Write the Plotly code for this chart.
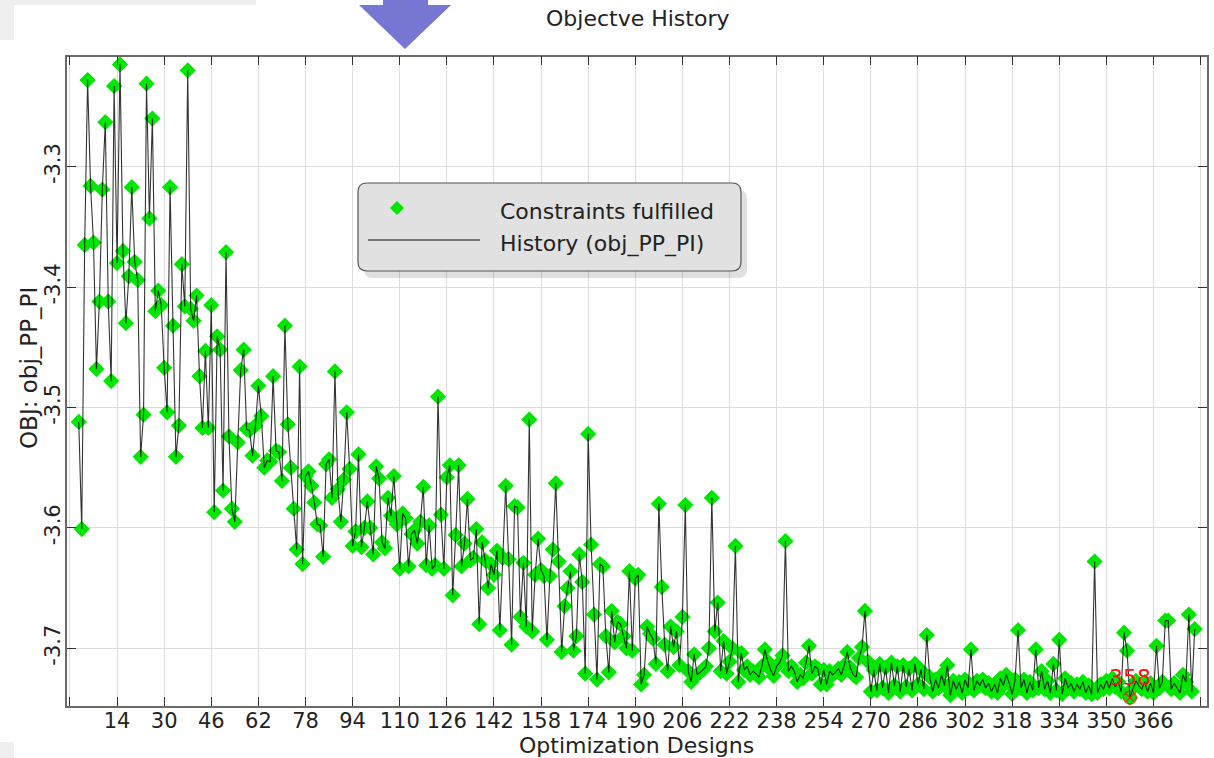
import numpy as np
import plotly.graph_objects as go

# objective history (designs 1..380)
obj_start = [
    -3.512, -3.601, -3.365, -3.228, -3.316, -3.363, -3.468, -3.412, -3.319, -3.263,
    -3.412, -3.478, -3.233, -3.380, -3.215, -3.370, -3.430, -3.391, -3.317, -3.379,
    -3.394, -3.541, -3.506, -3.231, -3.343, -3.260, -3.420, -3.403, -3.415, -3.467,
    -3.504, -3.317, -3.432, -3.541, -3.515, -3.381, -3.416, -3.220, -3.418, -3.428,
    -3.407, -3.474, -3.517, -3.453, -3.517, -3.415, -3.587, -3.441, -3.452, -3.569,
    -3.371, -3.524, -3.584, -3.595, -3.529, -3.469, -3.452, -3.518, -3.519, -3.540,
    -3.515, -3.482,
]
obj_mid = [
    -3.507, -3.550, -3.544, -3.545, -3.474, -3.536, -3.537, -3.561, -3.432, -3.514,
    -3.550, -3.584, -3.618, -3.466, -3.630, -3.557, -3.553, -3.565, -3.579, -3.597,
    -3.598, -3.624, -3.547, -3.543, -3.575, -3.470, -3.568, -3.595, -3.560, -3.504,
    -3.551, -3.615, -3.603, -3.539, -3.616, -3.600, -3.578, -3.600, -3.622, -3.549,
    -3.559, -3.612, -3.617, -3.575, -3.590, -3.557, -3.597, -3.634, -3.588, -3.592,
    -3.632, -3.605, -3.602, -3.613, -3.595, -3.566, -3.631, -3.598, -3.634, -3.631,
    -3.491,
]
obj_late_a = [
    -3.589, -3.634, -3.558, -3.548, -3.656, -3.606, -3.548, -3.632, -3.613, -3.576,
    -3.627, -3.625, -3.601, -3.680, -3.612, -3.627, -3.650, -3.630, -3.639, -3.619,
    -3.685, -3.625, -3.565, -3.626, -3.697, -3.582, -3.583, -3.674, -3.629, -3.682,
    -3.510, -3.686, -3.639, -3.609, -3.635, -3.640, -3.693, -3.640, -3.618, -3.563,
    -3.628, -3.703, -3.665, -3.650, -3.636, -3.702, -3.690, -3.622, -3.645, -3.721,
    -3.522, -3.614, -3.672, -3.726, -3.630, -3.632, -3.690, -3.720, -3.669, -3.695,
    -3.678, -3.680, -3.690,
]
obj_late_b = [
    -3.700, -3.636, -3.702, -3.642, -3.639, -3.730, -3.722, -3.682, -3.688, -3.692,
    -3.713, -3.580, -3.649, -3.697, -3.719, -3.682, -3.699, -3.686, -3.714, -3.674,
    -3.581, -3.719, -3.728, -3.705, -3.722, -3.720, -3.718,
]
obj_late_c = [
    -3.715, -3.700, -3.575, -3.686, -3.662, -3.719, -3.694, -3.721, -3.711, -3.700,
    -3.615, -3.728, -3.704, -3.718, -3.715, -3.722, -3.719, -3.721, -3.724, -3.715,
    -3.701, -3.711, -3.718, -3.723, -3.715, -3.712, -3.706, -3.611, -3.719, -3.715,
    -3.719, -3.728, -3.722, -3.725,
]
obj_late_d = [
    -3.712, -3.698, -3.721, -3.715, -3.717, -3.730, -3.718, -3.730, -3.719, -3.722,
    -3.720, -3.717, -3.722, -3.714, -3.703, -3.716, -3.722, -3.724, -3.708, -3.699,
    -3.669, -3.711, -3.736,
]
obj_end = [
    -3.718, -3.735, -3.713, -3.733, -3.716, -3.737, -3.712, -3.731, -3.715, -3.736,
    -3.714, -3.732, -3.717, -3.735, -3.713, -3.730, -3.718, -3.734, -3.689, -3.724,
    -3.736, -3.726, -3.733, -3.722, -3.731, -3.714, -3.739, -3.727, -3.734, -3.728,
    -3.737, -3.726, -3.733, -3.701, -3.735, -3.727, -3.731, -3.726, -3.733, -3.729,
    -3.736, -3.730, -3.737, -3.725, -3.731, -3.722, -3.729, -3.738, -3.726, -3.685,
    -3.733, -3.726, -3.737, -3.728, -3.735, -3.701, -3.733, -3.719, -3.734, -3.727,
    -3.737, -3.713, -3.735, -3.693, -3.738, -3.725, -3.733, -3.729, -3.736, -3.730,
    -3.734, -3.728, -3.737, -3.731, -3.738, -3.628, -3.737, -3.730, -3.734, -3.727,
    -3.733, -3.725, -3.732, -3.728, -3.736, -3.687, -3.702, -3.741, -3.733, -3.727,
    -3.731, -3.734, -3.728, -3.736, -3.729, -3.737, -3.698, -3.733, -3.728, -3.677,
    -3.677, -3.734, -3.729, -3.733, -3.737, -3.722, -3.728, -3.672, -3.736, -3.684,
]

obj_values = obj_start + obj_mid + obj_late_a + obj_late_b + obj_late_c + obj_late_d + obj_end
designs = list(range(1, len(obj_values) + 1))

x_tick_vals = list(range(-2, 383, 16))
x_tick_text = ['' if v in (-2, 382) else str(v) for v in x_tick_vals]
y_tick_vals = [-3.7, -3.6, -3.5, -3.4, -3.3]
y_tick_text = ['-3.7', '-3.6', '-3.5', '-3.4', '-3.3']

W, H = 1214, 758
FONT = 'DejaVu Sans'


def px(x):
    return x / W


def py(y):
    return 1 - y / H


def label(x, y, text, size, anchor='center', angle=0, color='#222'):
    fig.add_annotation(x=px(x), y=py(y), xref='paper', yref='paper', showarrow=False,
                       xanchor=anchor, yanchor='middle', textangle=angle, text=text,
                       font=dict(family=FONT, size=size, color=color))


best = int(np.argmin(obj_values))

fig = go.Figure()

# green diamonds first, history line on top of them
fig.add_trace(go.Scatter(
    x=designs, y=obj_values, mode='markers', name='Constraints fulfilled',
    marker=dict(symbol='diamond', size=12.5, color='#00e600', line=dict(width=0)),
    showlegend=False,
))
fig.add_trace(go.Scatter(
    x=designs, y=obj_values, mode='lines', name='History (obj_PP_PI)',
    line=dict(color='rgba(0,0,0,0.8)', width=1.1),
    showlegend=False,
))
# best design marker
fig.add_trace(go.Scatter(
    x=[designs[best]], y=[obj_values[best]], mode='markers',
    marker=dict(symbol='circle-x-open', size=13, color='rgba(255,0,0,0.7)', line=dict(width=1.2)),
    showlegend=False,
))
fig.add_annotation(
    x=designs[best], y=obj_values[best], yshift=20, showarrow=False,
    xanchor='center', yanchor='middle',
    text=str(designs[best]), font=dict(family=FONT, size=22, color='#ff1010'),
)

# title / axis titles
label(637, 18, 'Objectve History', 22)
label(636.5, 745, 'Optimization Designs', 22)
label(29, 368, 'OBJ: obj_PP_PI', 23, angle=-90)

# ---- hand-drawn legend box ----
lx0, ly0, lx1, ly1, r = 358, 183, 741, 271, 9


def rounded(x0, y0, x1, y1, rr):
    return (f'M {px(x0 + rr)},{py(y0)} L {px(x1 - rr)},{py(y0)} '
            f'Q {px(x1)},{py(y0)} {px(x1)},{py(y0 + rr)} L {px(x1)},{py(y1 - rr)} '
            f'Q {px(x1)},{py(y1)} {px(x1 - rr)},{py(y1)} L {px(x0 + rr)},{py(y1)} '
            f'Q {px(x0)},{py(y1)} {px(x0)},{py(y1 - rr)} L {px(x0)},{py(y0 + rr)} '
            f'Q {px(x0)},{py(y0)} {px(x0 + rr)},{py(y0)} Z')


fig.add_shape(type='path', path=rounded(lx0 + 6, ly0 + 7, lx1 + 6, ly1 + 7, r), xref='paper', yref='paper',
              fillcolor='rgba(0,0,0,0.12)', line_width=0)
fig.add_shape(type='path', path=rounded(lx0, ly0, lx1, ly1, r), xref='paper', yref='paper',
              fillcolor='#e1e1e1', line=dict(color='#555', width=1.2))
dcx, dcy, dr = 397, 208, 7
fig.add_shape(type='path', xref='paper', yref='paper',
              path=f'M {px(dcx)},{py(dcy - dr)} L {px(dcx + dr)},{py(dcy)} L {px(dcx)},{py(dcy + dr)} L {px(dcx - dr)},{py(dcy)} Z',
              fillcolor='#00e600', line_width=0)
fig.add_shape(type='line', xref='paper', yref='paper', x0=px(368), x1=px(480), y0=py(240), y1=py(240),
              line=dict(color='#555', width=1.3))
label(498, 211, 'Constraints fulfilled', 22, anchor='left')
label(498, 244, 'History (obj_PP_PI)', 22, anchor='left')

# ---- window chrome around the plot ----
fig.add_shape(type='rect', xref='paper', yref='paper', x0=0, x1=px(256), y0=py(0), y1=py(40),
              fillcolor='#efefef', line_width=0, layer='below')
fig.add_shape(type='rect', xref='paper', yref='paper', x0=px(14), x1=px(256), y0=py(5), y1=py(40),
              fillcolor='white', line_width=0, layer='below')
fig.add_shape(type='rect', xref='paper', yref='paper', x0=0, x1=px(14), y0=py(742), y1=py(758),
              fillcolor='#efefef', line_width=0, layer='below')
fig.add_shape(type='path', xref='paper', yref='paper',
              path=(f'M {px(383)},{py(0)} L {px(428)},{py(0)} L {px(428)},{py(5)} L {px(451)},{py(5)} '
                    f'L {px(405)},{py(49)} L {px(359)},{py(5)} L {px(383)},{py(5)} Z'),
              fillcolor='#7676d3', line_width=0)

axis_common = dict(
    showgrid=True, gridcolor='#dcdcdc', gridwidth=1, zeroline=False,
    showline=True, linecolor='#6a6a6a', linewidth=1.5, mirror='ticks',
    ticks='inside', ticklen=9, tickcolor='#333', tickwidth=1.2,
    tickfont=dict(family=FONT, size=21, color='#222'),
)

fig.update_layout(
    width=W, height=H, autosize=False,
    margin=dict(l=0, r=0, t=0, b=0, pad=0),
    paper_bgcolor='white', plot_bgcolor='white',
    showlegend=False,
    xaxis=dict(
        domain=[px(67), px(1206.5)], range=[-3, 384],
        tickmode='array', tickvals=x_tick_vals, ticktext=x_tick_text,
        ticklabelstandoff=-5,
        **axis_common,
    ),
    yaxis=dict(
        domain=[py(705.7), py(56.7)], range=[-3.7477, -3.2086],
        tickmode='array', tickvals=y_tick_vals, ticktext=y_tick_text, tickangle=-90,
        ticklabelstandoff=-3,
        **axis_common,
    ),
)

fig.write_html("out.html", config={'displayModeBar': False},
               post_script="document.body.style.margin='0';document.body.style.overflow='hidden';")
